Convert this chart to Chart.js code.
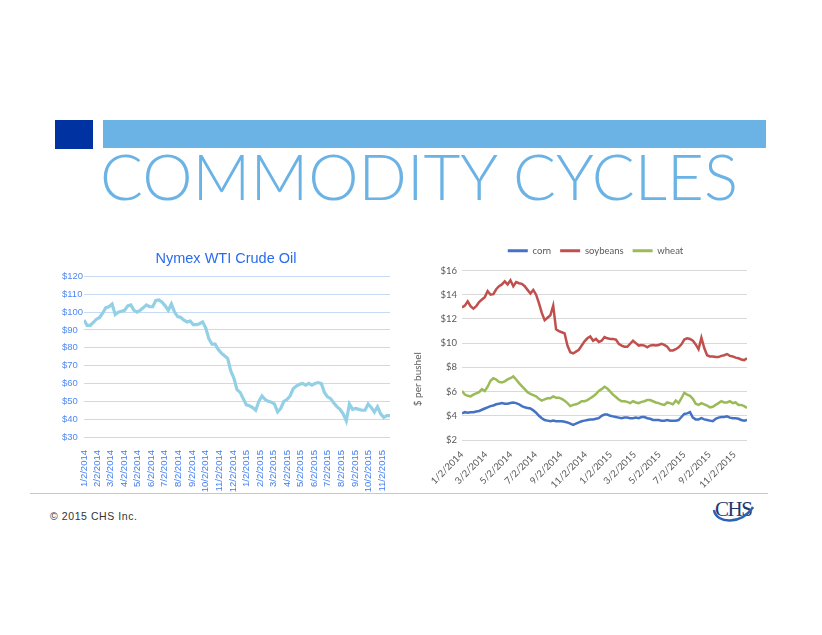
<!DOCTYPE html>
<html>
<head>
<meta charset="utf-8">
<script src="https://cdn.jsdelivr.net/npm/chart.js@4.4.1/dist/chart.umd.min.js"></script>
<style>
  html, body { margin: 0; padding: 0; background: #ffffff; }
  body { width: 822px; height: 635px; position: relative; overflow: hidden; }
  #deco { position: absolute; left: 0; top: 0; }
  canvas { position: absolute; }
</style>
</head>
<body>
<svg id="deco" width="822" height="635" xmlns="http://www.w3.org/2000/svg">
  <rect x="55" y="120" width="38" height="29" fill="#0033a1"/>
  <rect x="103" y="120" width="663" height="28" fill="#6bb3e5"/>
  <text x="100" y="200" font-family="Lato, 'Open Sans', sans-serif" font-weight="300" font-size="63" fill="#6bb3e5" textLength="638" lengthAdjust="spacingAndGlyphs">COMMODITY CYCLES</text>
  <line x1="30" y1="493.5" x2="768" y2="493.5" stroke="#c8c8c8" stroke-width="1"/>
  <text x="50" y="520" font-family="'Liberation Sans', Arial, sans-serif" font-size="10.5" fill="#333333" textLength="87">© 2015 CHS Inc.</text>
  <text x="715" y="516" font-family="'Liberation Serif', 'DejaVu Serif', serif" font-size="21" fill="#1c3a6e" letter-spacing="-1.5">CHS</text>
  <path d="M714,510 C716,524 742,525 753,507" fill="none" stroke="#2b62b5" stroke-width="2.5"/>
</svg>
<canvas id="oil" width="345" height="255" style="left:55px; top:240px;"></canvas>
<canvas id="grain" width="360" height="259" style="left:400px; top:236px;"></canvas>
<script>
// ---------- data ----------
const startDate = '1/2/2014';
const oilTickLabels = ['1/2/2014','2/2/2014','3/2/2014','4/2/2014','5/2/2014','6/2/2014','7/2/2014','8/2/2014','9/2/2014','10/2/2014','11/2/2014','12/2/2014','1/2/2015','2/2/2015','3/2/2015','4/2/2015','5/2/2015','6/2/2015','7/2/2015','8/2/2015','9/2/2015','10/2/2015','11/2/2015'];
const grainTickLabels = ['1/2/2014','3/2/2014','5/2/2014','7/2/2014','9/2/2014','11/2/2014','1/2/2015','3/2/2015','5/2/2015','7/2/2015','9/2/2015','11/2/2015'];

// weekly WTI crude price ($/bbl), starting 1/2/2014
const oilPrices = [95.6,92.5,92.5,94.3,96,97,99.5,102.5,103,104.5,98.6,100,100.5,101,103.5,104,101,100,101,102.5,
  104,103,103,106.5,106.8,105.5,103.5,101,104.5,100,97.5,97,95.5,94.5,95,93,93,93.5,94.5,91,
  85,82,82,79,77,75.5,74,67,63,56.5,55,51.5,48,47.5,46.5,45,50,53,51,50,
  49.5,48.5,44,46,50,51,53,57,58.5,59.5,60,59,60,59,60,60.5,60,55,52.5,51.5,
  49,47,45.5,43,39,48.5,45.5,46,45.5,45,45,48.5,46.5,44,47,43,41,42,42];

// weekly grain prices ($ per bushel), starting 1/2/2014
const corn = [4.2,4.3,4.25,4.3,4.3,4.35,4.4,4.5,4.6,4.7,4.8,4.85,4.95,5.0,5.05,5.0,5.0,5.05,5.1,5.05,
  4.95,4.8,4.7,4.65,4.6,4.45,4.25,4.0,3.8,3.65,3.6,3.55,3.6,3.55,3.55,3.55,3.5,3.45,3.35,3.25,
  3.35,3.45,3.55,3.6,3.65,3.7,3.7,3.75,3.8,4.0,4.1,4.1,4.0,3.95,3.9,3.85,3.8,3.85,3.85,3.8,
  3.8,3.85,3.8,3.9,3.9,3.8,3.75,3.65,3.65,3.65,3.6,3.6,3.65,3.6,3.6,3.6,3.65,3.9,4.15,4.2,
  4.3,3.85,3.7,3.7,3.8,3.7,3.65,3.6,3.55,3.75,3.85,3.9,3.9,3.95,3.85,3.8,3.8,3.75,3.65,3.6,3.65];
const soybeans = [12.95,13.1,13.45,13.05,12.85,13.05,13.4,13.6,13.8,14.3,14.0,14.05,14.45,14.7,14.85,15.1,14.85,15.2,14.7,15.05,
  14.95,14.9,14.7,14.4,14.1,14.4,14.0,13.3,12.5,11.9,12.1,12.3,13.1,11.15,11.0,10.9,10.8,9.8,9.25,9.15,
  9.3,9.45,9.8,10.15,10.4,10.55,10.2,10.35,10.1,10.2,10.5,10.4,10.35,10.35,10.3,9.95,9.8,9.7,9.7,9.95,
  10.2,10.0,9.8,9.85,9.8,9.65,9.8,9.85,9.8,9.85,9.95,9.85,9.7,9.4,9.4,9.5,9.65,9.9,10.3,10.4,
  10.35,10.2,9.9,9.5,10.45,9.6,9.0,8.9,8.9,8.85,8.85,8.95,9.0,9.1,8.95,8.9,8.8,8.75,8.65,8.6,8.75];
const wheat = [6.05,5.75,5.65,5.6,5.75,5.85,5.95,6.2,6.05,6.4,6.9,7.1,7.0,6.8,6.75,6.85,7.0,7.1,7.25,7.0,
  6.7,6.45,6.2,5.95,5.8,5.7,5.6,5.4,5.25,5.35,5.45,5.45,5.6,5.5,5.5,5.4,5.25,5.05,4.8,4.9,
  4.95,5.05,5.2,5.2,5.3,5.45,5.6,5.8,6.05,6.2,6.4,6.25,6.0,5.75,5.55,5.35,5.2,5.2,5.15,5.05,
  5.2,5.1,5.05,5.15,5.2,5.3,5.3,5.2,5.1,5.05,4.95,4.9,5.1,5.05,4.95,5.25,5.05,5.45,5.9,5.75,
  5.65,5.4,5.0,4.9,5.05,4.95,4.85,4.7,4.75,4.9,5.05,5.2,5.1,5.1,5.2,5.05,5.1,4.9,4.9,4.8,4.65];

const grainNames = ['corn','soybeans','wheat'];
const grainColors = ['#4472c4','#c0504d','#9bbb59'];
const grainAxisTitle = '$ per bushel';

// ---------- helpers ----------
function dayOf(s) {
  const p = s.split('/').map(Number);
  const q = startDate.split('/').map(Number);
  return Math.round((Date.UTC(p[2], p[0]-1, p[1]) - Date.UTC(q[2], q[0]-1, q[1])) / 864e5);
}
const weekly = arr => arr.map((v, i) => ({ x: i * 7, y: v }));

// ---------- oil chart ----------
const oilTickDays = oilTickLabels.map(dayOf);
new Chart(document.getElementById('oil'), {
  type: 'line',
  data: { datasets: [{ data: weekly(oilPrices), borderColor: '#93d0e6', borderWidth: 3.2, pointRadius: 0, tension: 0, fill: false }] },
  options: {
    responsive: false, animation: false,
    layout: { padding: { left: 7, right: 10, top: 0, bottom: 0 } },
    plugins: {
      legend: { display: false }, tooltip: { enabled: false },
      title: { display: true, text: 'Nymex WTI Crude Oil', color: '#2a6cf0',
        font: { family: "'Liberation Sans', Arial, sans-serif", size: 14.5, weight: 'normal' },
        padding: { top: 10, bottom: 9 } }
    },
    scales: {
      x: { type: 'linear', min: 0, max: (oilPrices.length - 1) * 7,
        afterBuildTicks: s => { s.ticks = oilTickDays.map(v => ({ value: v })); },
        afterFit: s => { s.height = 58; },
        grid: { display: false }, border: { display: false },
        ticks: { autoSkip: false, minRotation: 90, maxRotation: 90, padding: 5, color: '#3f7cf2',
          font: { family: "'Liberation Sans', Arial, sans-serif", size: 9.5 },
          callback: v => oilTickLabels[oilTickDays.indexOf(v)] } },
      y: { min: 30, max: 120,
        afterFit: s => { s.width = 22; },
        grid: { color: '#c8dbf5', lineWidth: 1, drawTicks: false }, border: { display: false },
        ticks: { stepSize: 10, crossAlign: 'far', padding: 0, color: '#4f88f5',
          font: { family: "'Liberation Sans', Arial, sans-serif", size: 9.5 },
          callback: v => '$' + v } }
    }
  }
});

// ---------- grain chart ----------
const grainTickDays = grainTickLabels.map(dayOf);
const legendTweak = {
  id: 'legendTweak',
  beforeInit(chart) {
    const fit = chart.legend.fit;
    chart.legend.fit = function () { fit.call(this); this.height += 6; };
  },
  afterLayout(chart) {
    chart.legend.left += 17; chart.legend.right += 17;
    chart.legend.top += 1; chart.legend.bottom += 1;
  },
  afterDraw(chart) {
    const ctx = chart.ctx, a = chart.chartArea;
    ctx.save();
    ctx.translate(a.left - 44, (a.top + a.bottom) / 2 + 24);
    ctx.rotate(-Math.PI / 2);
    ctx.fillStyle = '#595959';
    ctx.font = "10px Lato, 'Open Sans', sans-serif";
    ctx.textAlign = 'center'; ctx.textBaseline = 'middle';
    ctx.fillText(grainAxisTitle, 0, 0);
    ctx.restore();
  }
};
new Chart(document.getElementById('grain'), {
  type: 'line',
  data: { datasets: [corn, soybeans, wheat].map((arr, i) => ({
    label: grainNames[i], data: weekly(arr), borderColor: grainColors[i], backgroundColor: grainColors[i],
    borderWidth: 2.5, pointRadius: 0, tension: 0, fill: false })) },
  options: {
    responsive: false, animation: false,
    layout: { padding: { left: 10, right: 13, top: 0, bottom: 0 } },
    plugins: {
      tooltip: { enabled: false },
      legend: { display: true, position: 'top',
        labels: { boxWidth: 20, boxHeight: 3, padding: 9, color: '#595959',
          font: { family: "Lato, 'Open Sans', sans-serif", size: 9.5 },
          generateLabels: chart => Chart.defaults.plugins.legend.labels.generateLabels(chart).map(it => Object.assign(it, { lineWidth: 0, fillStyle: it.strokeStyle })) } }
    },
    scales: {
      x: { type: 'linear', min: 0, max: (corn.length - 1) * 7,
        afterBuildTicks: s => { s.ticks = grainTickDays.map(v => ({ value: v })); },
        afterFit: s => { s.height = 55; },
        grid: { display: false }, border: { display: false },
        ticks: { autoSkip: false, minRotation: 45, maxRotation: 45, padding: 1, color: '#595959',
          font: { family: "Lato, 'Open Sans', sans-serif", size: 9.5 },
          callback: v => grainTickLabels[grainTickDays.indexOf(v)] } },
      y: { min: 2, max: 16,
        afterFit: s => { s.width = 52; },
        grid: { color: '#d9d9d9', lineWidth: 1, drawTicks: false }, border: { display: false },
        ticks: { stepSize: 2, padding: 5, color: '#595959',
          font: { family: "Lato, 'Open Sans', sans-serif", size: 9.5 },
          callback: v => '$' + v } }
    }
  },
  plugins: [legendTweak]
});
</script>
</body>
</html>
